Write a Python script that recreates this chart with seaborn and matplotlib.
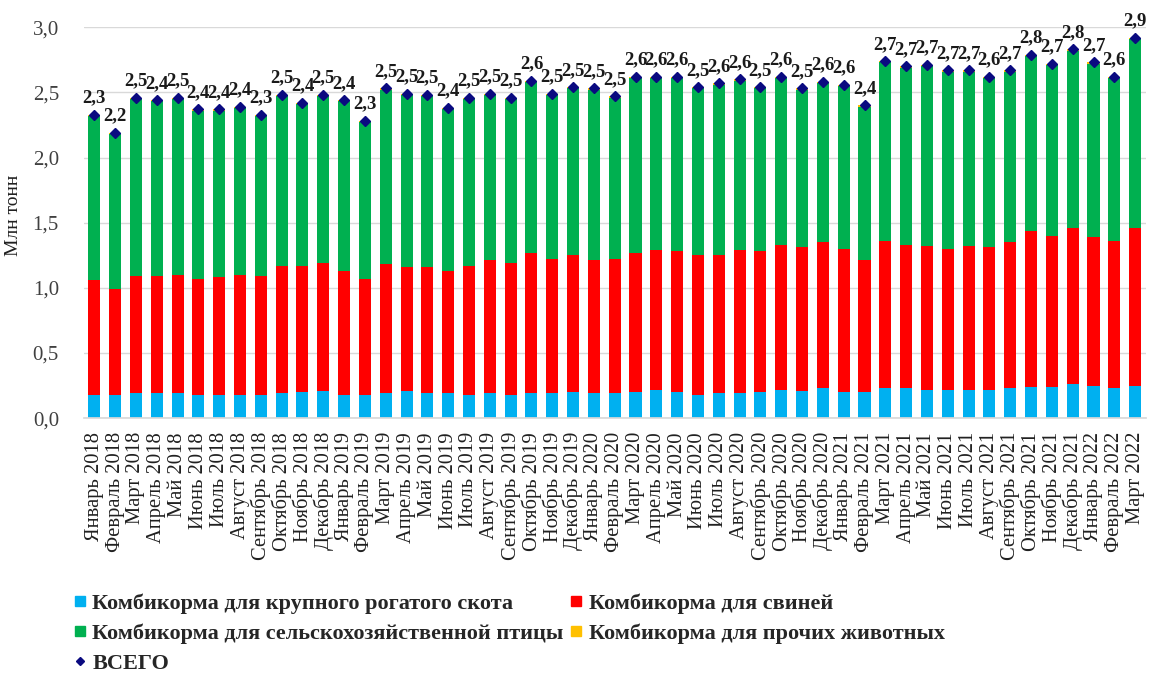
import numpy as np
import pandas as pd
import matplotlib
matplotlib.use("Agg")
import matplotlib.pyplot as plt
from matplotlib.ticker import FuncFormatter, MultipleLocator
from matplotlib.lines import Line2D
import seaborn as sns

months = ["Январь", "Февраль", "Март", "Апрель", "Май", "Июнь", "Июль",
          "Август", "Сентябрь", "Октябрь", "Ноябрь", "Декабрь"]
years = [2018, 2019, 2020, 2021, 2022]
periods = [f"{m} {y}" for y in years for m in months][:51]

cattle = [0.18, 0.18, 0.19, 0.19, 0.19, 0.18, 0.18, 0.18, 0.18, 0.19, 0.20, 0.21,
          0.18, 0.18, 0.19, 0.21, 0.19, 0.19, 0.18, 0.19, 0.18, 0.19, 0.19, 0.20,
          0.19, 0.19, 0.20, 0.22, 0.20, 0.18, 0.19, 0.19, 0.20, 0.22, 0.21, 0.23,
          0.20, 0.20, 0.23, 0.23, 0.22, 0.22, 0.22, 0.22, 0.23, 0.24, 0.24, 0.26,
          0.25, 0.23, 0.25]
pigs = [0.88, 0.81, 0.90, 0.90, 0.91, 0.89, 0.90, 0.92, 0.91, 0.98, 0.97, 0.98,
        0.95, 0.89, 0.99, 0.95, 0.97, 0.94, 0.99, 1.02, 1.01, 1.08, 1.03, 1.05,
        1.02, 1.03, 1.07, 1.07, 1.08, 1.07, 1.06, 1.10, 1.08, 1.11, 1.10, 1.12,
        1.10, 1.01, 1.13, 1.10, 1.10, 1.08, 1.10, 1.09, 1.12, 1.20, 1.16, 1.20,
        1.14, 1.13, 1.21]
poultry = [1.26, 1.19, 1.36, 1.34, 1.35, 1.29, 1.28, 1.28, 1.23, 1.30, 1.24, 1.28,
           1.30, 1.20, 1.34, 1.32, 1.31, 1.24, 1.28, 1.27, 1.26, 1.31, 1.26, 1.28,
           1.31, 1.24, 1.34, 1.32, 1.33, 1.28, 1.31, 1.30, 1.25, 1.28, 1.21, 1.22,
           1.25, 1.18, 1.37, 1.36, 1.38, 1.36, 1.34, 1.30, 1.31, 1.34, 1.31, 1.36,
           1.33, 1.25, 1.45]
other = [0.01] * 51

series_names = ["Комбикорма для крупного рогатого скота",
                "Комбикорма для свиней",
                "Комбикорма для сельскохозяйственной птицы",
                "Комбикорма для прочих животных"]
total_name = "ВСЕГО"
colors = ["#00B0F0", "#FF0000", "#00B050", "#FFC000"]
total_color = "#0A0A80"

df = pd.DataFrame({"period": periods, "c": cattle, "p": pigs, "g": poultry, "o": other})
df["l1"] = df["c"]
df["l2"] = df["l1"] + df["p"]
df["l3"] = df["l2"] + df["g"]
df["l4"] = df["l3"] + df["o"]
df["total"] = df["l4"]

sns.set_theme(style="white")
plt.rcParams["font.family"] = ["Liberation Serif", "DejaVu Serif"]

fig = plt.figure(figsize=(11.49, 6.8), dpi=100)
ax = fig.add_axes([0.073, 0.385, 0.924, 0.575])

bw = 0.58
for col, color in zip(["l4", "l3", "l2", "l1"], colors[::-1]):
    sns.barplot(data=df, x="period", y=col, color=color, width=bw,
                saturation=1, ax=ax, order=periods, linewidth=0)

xs = np.arange(len(periods))
ax.plot(xs, df["total"], linestyle="none", marker="D", markersize=5.5,
        color=total_color, zorder=5)
for x, v in zip(xs, df["total"]):
    ax.annotate(f"{v:.1f}".replace(".", ","), (x, v), xytext=(0, 6),
                textcoords="offset points", ha="center", va="bottom",
                fontsize=13.5, fontweight="bold", color="#1a1a1a", zorder=6)

ax.set_ylim(0, 3.0)
ax.set_xlim(-0.5, len(periods) - 0.5)
ax.yaxis.set_major_locator(MultipleLocator(0.5))
ax.yaxis.set_major_formatter(FuncFormatter(lambda v, p: f"{v:.1f}".replace(".", ",")))
ax.grid(axis="y", color="#D9D9D9", linewidth=1)
ax.set_axisbelow(True)
for s in ["top", "right", "left"]:
    ax.spines[s].set_visible(False)
ax.spines["bottom"].set_color("#D9D9D9")
ax.tick_params(axis="y", labelsize=15, labelcolor="#404040", length=0, pad=18)
ax.tick_params(axis="x", labelsize=14.8, labelcolor="#202020", length=0, pad=10)
ax.set_xticks(xs)
ax.set_xticklabels(periods, rotation=90)
ax.set_xlabel("")
ax.set_ylabel("Млн тонн", fontsize=14, color="#202020")
ax.yaxis.set_label_coords(-0.058, 0.52)

handles = [Line2D([], [], linestyle="none", marker="s", markersize=7, color=c) for c in colors]
th = Line2D([], [], linestyle="none", marker="D", markersize=4.5, color=total_color)
order_h = [handles[0], handles[2], th, handles[1], handles[3]]
order_l = [series_names[0], series_names[2], total_name, series_names[1], series_names[3]]
fig.legend(order_h, order_l, ncol=2, loc="upper left", bbox_to_anchor=(0.064, 0.128),
           frameon=False, handlelength=0.55, handletextpad=0.3, columnspacing=0.3,
           labelspacing=0.44, prop={"family": "Liberation Serif", "weight": "bold", "size": 16},
           borderaxespad=0, borderpad=0)

fig.savefig("out.png", dpi=100)
